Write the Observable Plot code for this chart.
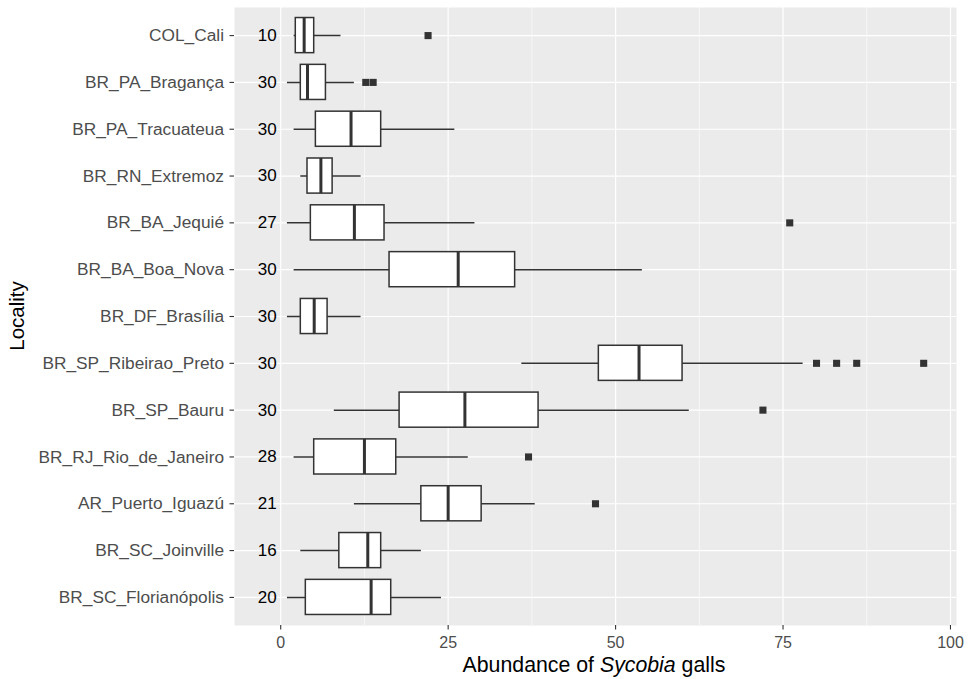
<!DOCTYPE html>
<html><head><meta charset="utf-8">
<script src="https://cdn.jsdelivr.net/npm/d3@7"></script>
<script src="https://cdn.jsdelivr.net/npm/@observablehq/plot@0.6"></script>
<style>body{margin:0;background:#fff;}</style>
</head><body><div id="chart"></div>
<script>
const localities = ["COL_Cali","BR_PA_Bragança","BR_PA_Tracuateua","BR_RN_Extremoz","BR_BA_Jequié","BR_BA_Boa_Nova","BR_DF_Brasília","BR_SP_Ribeirao_Preto","BR_SP_Bauru","BR_RJ_Rio_de_Janeiro","AR_Puerto_Iguazú","BR_SC_Joinville","BR_SC_Florianópolis"];
const sampleN   = [10, 30, 30, 30, 27, 30, 30, 30, 30, 28, 21, 16, 20];
const whiskerLo = [2, 1, 2, 3, 1, 2, 1, 36, 8, 2, 11, 3, 1];
const q1        = [2.25, 3, 5.25, 4, 4.5, 16.25, 3, 47.5, 17.75, 5, 21, 8.75, 3.75];
const median    = [3.5, 4, 10.5, 6, 11, 26.5, 5, 53.5, 27.5, 12.5, 25, 13, 13.5];
const q3        = [5, 6.75, 15, 7.75, 15.5, 35, 7, 60, 38.5, 17.25, 30, 15, 16.5];
const whiskerHi = [9, 11, 26, 12, 29, 54, 12, 78, 61, 28, 38, 21, 24];
const outlierLocality = ["COL_Cali","BR_PA_Bragança","BR_PA_Bragança","BR_BA_Jequié","BR_SP_Ribeirao_Preto","BR_SP_Ribeirao_Preto","BR_SP_Ribeirao_Preto","BR_SP_Ribeirao_Preto","BR_SP_Bauru","BR_RJ_Rio_de_Janeiro","AR_Puerto_Iguazú"];
const outlierValue    = [22, 12.7, 13.8, 76, 80, 83, 86, 96, 72, 37, 47];
const xTicks = [0, 25, 50, 75, 100];
const xMinorTicks = [12.5, 37.5, 62.5, 87.5];

const rows = localities.map((name, i) => ({name, n: sampleN[i], lo: whiskerLo[i], q1: q1[i], med: median[i], q3: q3[i], hi: whiskerHi[i]}));
const outliers = outlierLocality.map((name, i) => ({name, value: outlierValue[i]}));

const ink = "#333333";
const font = "'Liberation Sans', Arial, Helvetica, sans-serif";
const chart = Plot.plot({
  width: 971, height: 679,
  marginLeft: 234, marginRight: 15, marginTop: 7, marginBottom: 54,
  style: {fontFamily: font, background: "white"},
  x: {domain: [-6.9, 100.9]},
  y: {domain: localities, paddingInner: 0.25, paddingOuter: 0.225, align: 0.5, round: false},
  marks: [
    Plot.frame({fill: "#EBEBEB", stroke: null}),
    Plot.gridX(xMinorTicks, {stroke: "white", strokeOpacity: 1, strokeWidth: 0.6}),
    Plot.gridX(xTicks, {stroke: "white", strokeOpacity: 1, strokeWidth: 1.2}),
    Plot.gridY(localities, {stroke: "white", strokeOpacity: 1, strokeWidth: 1.2}),
    Plot.ruleY(rows, {y: "name", x1: "lo", x2: "hi", stroke: ink, strokeWidth: 1.5}),
    Plot.barX(rows, {y: "name", x1: "q1", x2: "q3", fill: "white", stroke: ink, strokeWidth: 1.5}),
    Plot.tickX(rows, {y: "name", x: "med", stroke: ink, strokeWidth: 3}),
    Plot.dot(outliers, {y: "name", x: "value", symbol: "square", r: 4, fill: ink, stroke: null}),
    Plot.text(rows, {y: "name", x: () => -2, text: d => String(d.n), fontSize: 17, fill: "black"}),
    Plot.axisX(xTicks, {tickSize: 4.5, tickPadding: 7, fontSize: 16, color: "#4D4D4D", stroke: ink, strokeWidth: 1.1, label: null}),
    Plot.axisY(localities, {tickSize: 4.5, tickPadding: 6, fontSize: 17.3, color: "#4D4D4D", stroke: ink, strokeWidth: 1.1, label: null})
  ]
});
document.getElementById("chart").appendChild(chart);

const svg = d3.select(chart);
const xt = svg.append("text")
  .attr("x", 594).attr("y", 672)
  .attr("text-anchor", "middle").attr("font-size", 21.3).attr("fill", "black")
  .attr("font-family", font);
xt.append("tspan").text("Abundance of ");
xt.append("tspan").attr("font-style", "italic").text("Sycobia");
xt.append("tspan").text(" galls");
svg.append("text")
  .attr("transform", `translate(24,${(7 + 625) / 2}) rotate(-90)`)
  .attr("text-anchor", "middle").attr("font-size", 20.5).attr("fill", "black")
  .attr("font-family", font)
  .text("Locality");
</script></body></html>
